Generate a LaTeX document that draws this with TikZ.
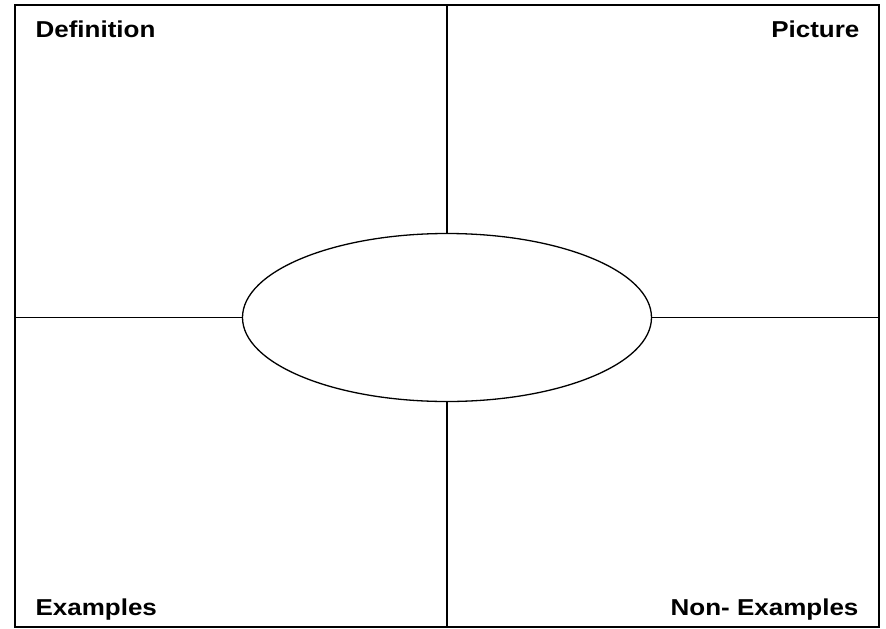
\documentclass[tikz,border=0pt]{standalone}
\usepackage{fontspec}
\setmainfont{Liberation Sans}
\usetikzlibrary{positioning,shapes.geometric,calc}

\begin{document}
\begin{tikzpicture}[
    x=1pt,y=-1pt,
    every node/.style={font=\bfseries\fontsize{23}{27}\selectfont},
    frame/.style={rectangle,draw,line width=1.3pt,minimum width=864pt,
                  minimum height=622pt,inner sep=0pt},
    oval/.style={ellipse,draw,line width=1.3pt,minimum width=409pt,
                 minimum height=168pt,inner sep=0pt},
    corner/.style={inner sep=0pt,xscale=1.13},
    rule/.style={line width=1.3pt}
  ]
  \useasboundingbox (0,0) rectangle (886,629);
  % Outer frame and centre oval
  \node[frame] (frame) at (447,316) {};
  \node[oval] (word) at (447,317.5) {};
  % Corner labels
  \node[corner,anchor=base west] (def)
        at ([xshift=21pt,yshift=-33pt]frame.north west) {Definition};
  \node[corner,anchor=base east] (pic)
        at ([xshift=-20pt,yshift=-33pt]frame.north east) {Picture};
  \node[corner,anchor=base west] (ex)
        at ([xshift=21pt,yshift=12pt]frame.south west) {Examples};
  \node[corner,anchor=base east] (nonex)
        at ([xshift=-21pt,yshift=12pt]frame.south east) {Non- Examples};
  % Dividing lines
  \draw[rule] (frame.north) -- (word.north);
  \draw[rule] (word.south) -- (frame.south);
  \draw[rule] (frame.west |- word.west) -- (word.west);
  \draw[rule] (word.east) -- (frame.east |- word.east);
\end{tikzpicture}
\end{document}
